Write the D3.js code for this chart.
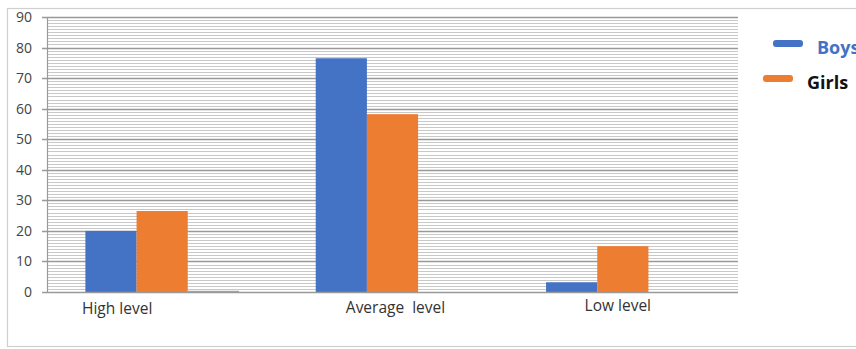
<!DOCTYPE html>
<html>
<head>
<meta charset="utf-8">
<script src="https://cdn.jsdelivr.net/npm/d3@7"></script>
<style>
  html, body { margin: 0; padding: 0; background: #fff; }
  svg { display: block; }
</style>
</head>
<body>
<svg id="chart" width="856" height="349"></svg>
<script>
// Achievement levels by group
const categories = ["High level", "Average  level", "Low level"];
const boys = [20, 76.5, 3.2];
const girls = [26.5, 58.2, 15];
const third = [0.4, 0, 0];
const yTicks = [0, 10, 20, 30, 40, 50, 60, 70, 80, 90];
const seriesNames = ["Boys", "Girls", "Series3"];
const legendNames = ["Boys", "Girls"];
const labelShift = [-45, 3, -5];

const colors = { Boys: "#4472C4", Girls: "#ED7D31", Series3: "#A5A5A5" };
const font = "'Open Sans', Lato, sans-serif";

const svg = d3.select("#chart");
const W = 856;
const m = { left: 47, right: 738, top: 17, bottom: 292 };

// chart frame
svg.append("rect")
  .attr("x", 7.5).attr("y", 8.5)
  .attr("width", W + 10).attr("height", 338)
  .attr("fill", "#fff").attr("stroke", "#cfcfcf").attr("stroke-width", 1.2);

const y = d3.scaleLinear().domain([0, 90]).range([m.bottom, m.top]);
const x = d3.scaleBand().domain(categories).range([m.left, m.right])
  .paddingInner(1 / 3).paddingOuter(1 / 6);
const xs = d3.scaleBand().domain(seriesNames).range([0, x.bandwidth()]);

// minor grid lines (every unit)
const minor = d3.range(0, 91).filter(v => v % 10 !== 0);
svg.append("g").selectAll("line").data(minor).join("line")
  .attr("x1", m.left).attr("x2", m.right)
  .attr("y1", d => Math.round(y(d)) + 0.5).attr("y2", d => Math.round(y(d)) + 0.5)
  .attr("stroke", "#c8c8c8").attr("stroke-width", 1);

// major grid lines
svg.append("g").selectAll("line").data(yTicks.filter(v => v > 0)).join("line")
  .attr("x1", m.left - 5).attr("x2", m.right)
  .attr("y1", d => Math.round(y(d)) + 0.5).attr("y2", d => Math.round(y(d)) + 0.5)
  .attr("stroke", "#999").attr("stroke-width", 1.4);

// vertical axis line
svg.append("line")
  .attr("x1", m.left + 0.5).attr("x2", m.left + 0.5)
  .attr("y1", y(90)).attr("y2", y(0))
  .attr("stroke", "#999").attr("stroke-width", 1.2);

// y tick labels
const yAxis = d3.axisLeft(y).tickValues(yTicks).tickSize(0).tickPadding(0);
const gy = svg.append("g").attr("transform", `translate(${m.left - 15},0)`).call(yAxis);
gy.select(".domain").remove();
gy.selectAll("text")
  .attr("font-family", font)
  .attr("font-size", 14).attr("fill", "#444");

// bars
const data = categories.map((c, i) => ({
  cat: c,
  values: [
    { key: "Boys", v: boys[i] },
    { key: "Girls", v: girls[i] },
    { key: "Series3", v: third[i] }
  ]
}));

const groups = svg.append("g").selectAll("g").data(data).join("g")
  .attr("transform", d => `translate(${x(d.cat)},0)`);
groups.selectAll("rect").data(d => d.values.filter(e => e.v > 0)).join("rect")
  .attr("x", d => xs(d.key))
  .attr("width", xs.bandwidth())
  .attr("y", d => y(d.v))
  .attr("height", d => y(0) - y(d.v))
  .attr("fill", d => colors[d.key]);

// zero baseline
svg.append("line")
  .attr("x1", m.left - 5).attr("x2", m.right)
  .attr("y1", y(0) + 0.5).attr("y2", y(0) + 0.5)
  .attr("stroke", "#999").attr("stroke-width", 1.4);

// category labels
svg.append("g").selectAll("text").data(categories).join("text")
  .attr("x", (d, i) => x(d) + x.bandwidth() / 2 + labelShift[i])
  .attr("y", (d, i) => 314 - i * 1.5)
  .attr("text-anchor", "middle")
  .attr("font-family", font)
  .attr("font-size", 15.5).attr("fill", "#333")
  .style("white-space", "pre")
  .text(d => d);

// legend
const legend = svg.append("g");
const lg = legend.selectAll("g").data(legendNames).join("g")
  .attr("transform", (d, i) => `translate(${773 - i * 10},${40 + i * 35})`);
lg.append("rect")
  .attr("width", 30).attr("height", 7).attr("rx", 3)
  .attr("fill", d => colors[d]);
lg.append("text")
  .attr("x", 44).attr("y", 14)
  .attr("font-family", font)
  .attr("font-size", 18).attr("font-weight", "bold")
  .attr("fill", (d, i) => i === 0 ? "#4472C4" : "#111")
  .text(d => d);
</script>
</body>
</html>
